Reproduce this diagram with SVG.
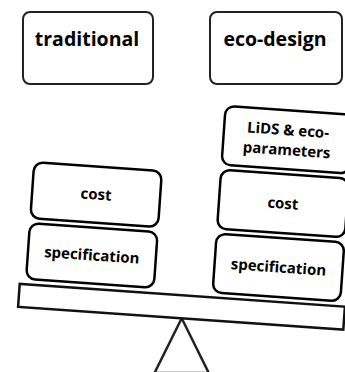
<svg xmlns="http://www.w3.org/2000/svg" width="345" height="372" viewBox="0 0 345 372">
<style>
.top{fill:#fff;stroke:#222;stroke-width:2}
.box{fill:#fff;stroke:#000;stroke-width:2.5}
.t{font-family:"Open Sans","Liberation Sans",sans-serif;font-weight:bold;fill:#000;text-anchor:middle}
.big{font-size:19.5px}
.sm{font-size:15px}
</style>
<rect width="345" height="372" fill="#fff"/>
<g id="traditional">
<rect class="top" x="23" y="12" width="130" height="72" rx="7"/>
<text class="t big" x="87" y="46">traditional</text>
</g>
<g id="eco-design">
<rect class="top" x="210" y="12" width="132" height="72" rx="7"/>
<text class="t big" x="275" y="46">eco-design</text>
</g>
<g id="fulcrum">
<polygon points="181.7,318.3 154.5,373 208.8,373" fill="#fff" stroke="#222" stroke-width="2.5" stroke-linejoin="miter"/>
</g>
<g transform="translate(181.7,318.3) rotate(4)">
<g id="beam">
<rect x="-164" y="-23" width="326" height="23" fill="#fff" stroke="#111" stroke-width="2.5"/>
</g>
<g id="left-specification">
<rect class="box" x="-158" y="-84.4" width="128" height="56" rx="9"/>
<text class="t sm" x="-94" y="-51.5">specification</text>
</g>
<g id="left-cost">
<rect class="box" x="-158" y="-145.4" width="128" height="56" rx="9"/>
<text class="t sm" x="-94" y="-112.5">cost</text>
</g>
<g id="right-specification">
<rect class="box" x="29" y="-87" width="128" height="59" rx="9"/>
<text class="t sm" x="93" y="-52.5">specification</text>
</g>
<g id="right-cost">
<rect class="box" x="29" y="-151" width="128" height="59" rx="9"/>
<text class="t sm" x="93" y="-116.5">cost</text>
</g>
<g id="lids">
<rect class="box" x="29" y="-215" width="128" height="59" rx="9"/>
<text class="t sm" x="93" y="-190">LiDS &amp; eco-</text>
<text class="t sm" x="93" y="-170">parameters</text>
</g>
</g>
</svg>
